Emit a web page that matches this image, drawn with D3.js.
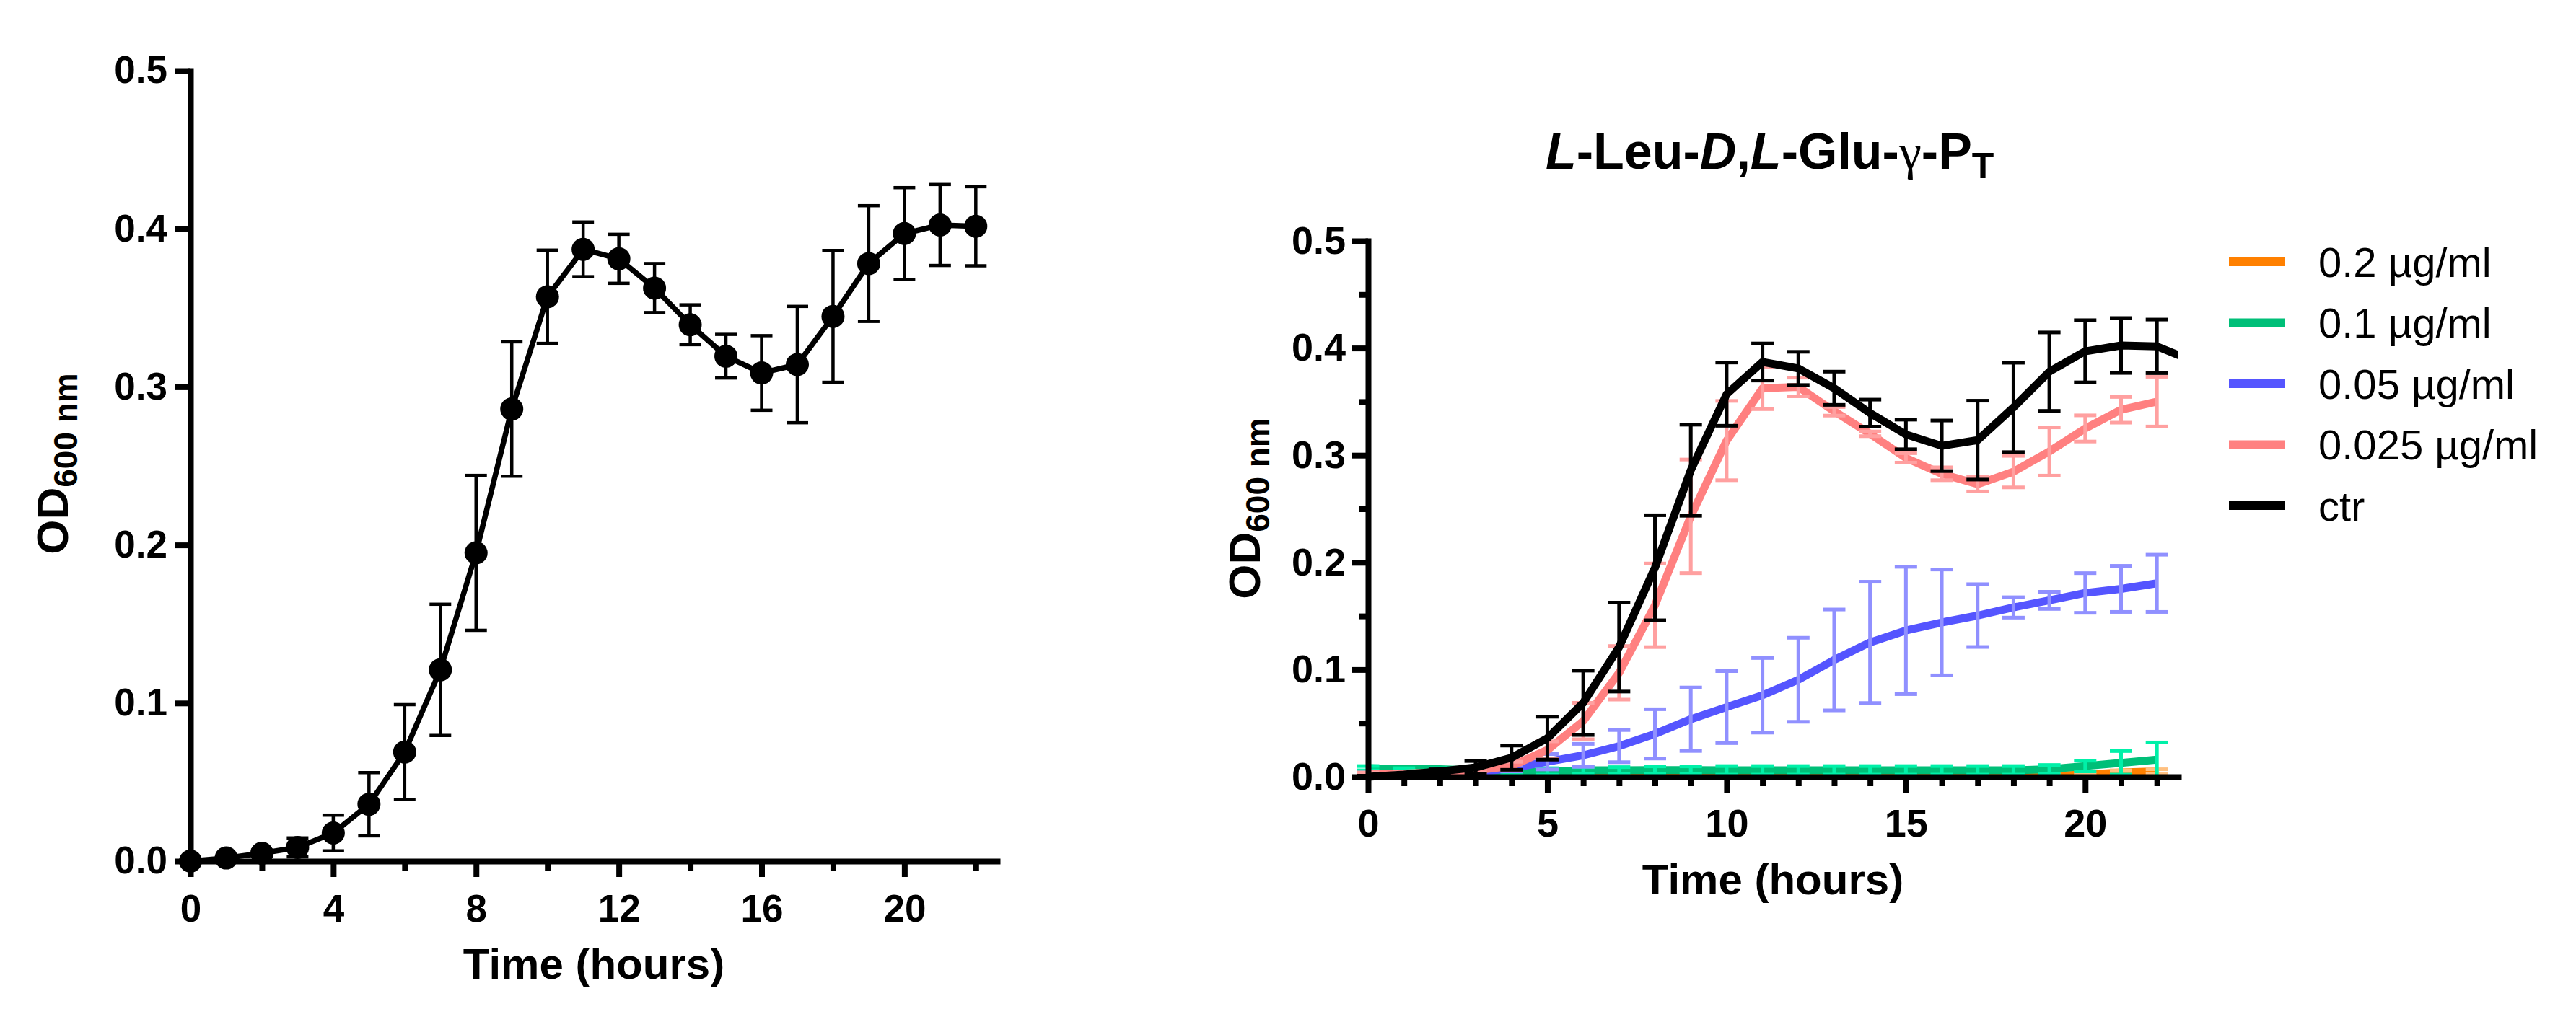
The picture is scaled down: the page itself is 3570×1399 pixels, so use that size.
<!DOCTYPE html>
<html><head><meta charset="utf-8">
<script src="https://cdn.jsdelivr.net/npm/d3@7"></script>
<style>
body{margin:0;background:#fff}
svg{display:block}
text{font-family:"Liberation Sans",Arial,sans-serif}
</style>
</head><body>
<svg id="c" width="3570" height="1399"></svg>
<script>
// ---------- DATA ----------
const hours = [0,1,2,3,4,5,6,7,8,9,10,11,12,13,14,15,16,17,18,19,20,21,22];

const ctrMean = [0.000,0.002,0.005,0.0087,0.0178,0.036,0.069,0.121,0.195,0.286,0.357,0.387,0.381,0.3625,0.3393,0.3194,0.3088,0.3141,0.3446,0.378,0.397,0.4024,0.4016];
const ctrErr  = [0.001,0.001,0.002,0.006,0.0113,0.020,0.030,0.0415,0.049,0.0425,0.0295,0.0173,0.0155,0.0155,0.0126,0.0138,0.0236,0.0368,0.0417,0.0366,0.029,0.0256,0.025];
// right panel control curve continues past the axis end
const ctrExtraHour = [23];
const ctrExtraMean = [0.388];

const pinkMean = [0.003,0.003,0.004,0.006,0.010,0.025,0.052,0.097,0.160,0.243,0.3137,0.3625,0.3637,0.341,0.320,0.2975,0.2827,0.273,0.2847,0.3035,0.325,0.3424,0.350];
const pinkErr  = [0.001,0.001,0.001,0.002,0.004,0.008,0.017,0.025,0.039,0.053,0.037,0.0195,0.0087,0.004,0.0022,0.0044,0.006,0.0068,0.0147,0.0225,0.0122,0.012,0.0232];

const blueMean = [0.003,0.003,0.003,0.004,0.008,0.014,0.020,0.0286,0.040,0.0537,0.065,0.076,0.0905,0.109,0.1254,0.1365,0.144,0.1504,0.158,0.1646,0.1715,0.1753,0.1805];
const blueErr  = [0.001,0.001,0.001,0.001,0.003,0.0072,0.0107,0.015,0.023,0.0296,0.0336,0.0348,0.0392,0.0471,0.0566,0.0594,0.0494,0.0293,0.0095,0.008,0.0185,0.0215,0.0267];

const greenMean = [0.008,0.007,0.007,0.006,0.004,0.005,0.006,0.006,0.0062,0.0062,0.006,0.006,0.006,0.006,0.006,0.006,0.006,0.006,0.006,0.007,0.010,0.013,0.016];
const greenErr  = [0.002,0.001,0.001,0.001,0.002,0.003,0.003,0.003,0.0035,0.0035,0.004,0.004,0.004,0.004,0.004,0.004,0.004,0.004,0.004,0.004,0.005,0.011,0.016];

const orangeMean = [0.004,0.003,0.002,0.001,0.001,0.001,0.001,0.001,0.001,0.001,0.001,0.001,0.001,0.001,0.001,0.001,0.001,0.001,0.001,0.001,0.002,0.004,0.005];
const orangeErr  = [0.001,0.001,0.001,0.001,0.001,0.001,0.001,0.001,0.001,0.001,0.001,0.001,0.001,0.001,0.001,0.001,0.001,0.001,0.001,0.001,0.001,0.002,0.002];

const seriesNames  = ["0.2 µg/ml","0.1 µg/ml","0.05 µg/ml","0.025 µg/ml","ctr"];
const seriesColors = ["#FF8000","#00BF78","#5555FF","#FF8080","#000000"];
const barColors    = ["#FFC080","#00F0A8","#9090FF","#FFA0A0","#000000"];

const yTicks = [0,0.1,0.2,0.3,0.4,0.5];
const yMinorR = [0.05,0.15,0.25,0.35,0.45];
const xTicksL = [0,4,8,12,16,20];
const xMinorL = [2,6,10,14,18,22];
const xTicksR = [0,5,10,15,20];
const xMinorR = [1,2,3,4,6,7,8,9,11,12,13,14,16,17,18,19,21,22];

// ---------- DRAW ----------
const svg = d3.select("#c");
const FONT = '"Liberation Sans",Arial,sans-serif';

function styleAxis(g, fs){
  g.attr("font-family", FONT).attr("font-size", fs).attr("font-weight","bold");
  g.select(".domain").attr("stroke","#000").attr("stroke-width",8).attr("stroke-linecap","square");
  g.selectAll(".tick line").attr("stroke","#000").attr("stroke-width",8);
  g.selectAll(".tick text").attr("fill","#000");
}
function minorAxis(g){
  g.select(".domain").remove();
  g.selectAll(".tick line").attr("stroke","#000").attr("stroke-width",8);
  g.selectAll(".tick text").remove();
}

// ===== LEFT PANEL =====
const xL = d3.scaleLinear([0,22.6],[264,1382]);
const yL = d3.scaleLinear([0,0.5],[1194,98]);

const leftData = hours.map((h,i)=>({h, m:ctrMean[i], e:ctrErr[i]}));
const gL = svg.append("g");

// error bars
const ebL = gL.append("g").attr("stroke","#000").attr("stroke-width",4.5);
leftData.forEach(d=>{
  const x = xL(d.h), y1 = yL(d.m+d.e), y0 = yL(d.m-d.e);
  ebL.append("line").attr("x1",x).attr("x2",x).attr("y1",y1).attr("y2",y0);
  ebL.append("line").attr("x1",x-15).attr("x2",x+15).attr("y1",y1).attr("y2",y1);
  ebL.append("line").attr("x1",x-15).attr("x2",x+15).attr("y1",y0).attr("y2",y0);
});
gL.append("path").datum(leftData)
  .attr("fill","none").attr("stroke","#000").attr("stroke-width",7.5).attr("stroke-linejoin","round")
  .attr("d", d3.line().x(d=>xL(d.h)).y(d=>yL(d.m)));

// axes
const axYL = svg.append("g").attr("transform","translate(264,0)")
  .call(d3.axisLeft(yL).tickValues(yTicks).tickFormat(d3.format(".1f")).tickSize(22).tickPadding(10).tickSizeOuter(0));
styleAxis(axYL, 53);
const axXL = svg.append("g").attr("transform","translate(0,1194)")
  .call(d3.axisBottom(xL).tickValues(xTicksL).tickFormat(d3.format("d")).tickSize(22).tickPadding(24).tickSizeOuter(0));
styleAxis(axXL, 53);
const axXLm = svg.append("g").attr("transform","translate(0,1194)")
  .call(d3.axisBottom(xL).tickValues(xMinorL).tickSize(13).tickFormat(""));
minorAxis(axXLm);

// markers on top
gL.append("g").selectAll("circle").data(leftData).join("circle")
  .attr("cx",d=>xL(d.h)).attr("cy",d=>yL(d.m)).attr("r",16).attr("fill","#000");

// axis titles
svg.append("text").attr("x",823).attr("y",1357).attr("text-anchor","middle")
  .attr("font-size",60).attr("font-weight","bold").text("Time (hours)");
function odLabel(x,y){
  const t = svg.append("text").attr("transform",`translate(${x},${y}) rotate(-90)`)
    .attr("text-anchor","middle").attr("font-weight","bold");
  t.append("tspan").attr("font-size",62).text("OD");
  t.append("tspan").attr("font-size",46).attr("dy",13).text("600 nm");
}
odLabel(94,643);

// ===== RIGHT PANEL =====
const xR = d3.scaleLinear([0,22.6],[1896,3019]);
const yR = d3.scaleLinear([0,0.5],[1077,334]);

svg.append("defs").append("clipPath").attr("id","clipR")
  .append("rect").attr("x",1880).attr("y",300).attr("width",3019-1880).attr("height",820);

const means = [orangeMean, greenMean, blueMean, pinkMean, ctrMean];
const errs  = [orangeErr, greenErr, blueErr, pinkErr, ctrErr];
const gR = svg.append("g");
const lineR = d3.line().x(d=>xR(d.h)).y(d=>yR(d.m));

means.forEach((mArr,si)=>{
  let pts = hours.map((h,i)=>({h, m:mArr[i], e:errs[si][i]}));
  let linePts = pts.slice();
  if (si===4) ctrExtraHour.forEach((h,k)=>linePts.push({h, m:ctrExtraMean[k], e:0}));
  gR.append("path").datum(linePts).attr("clip-path","url(#clipR)")
    .attr("fill","none").attr("stroke",seriesColors[si]).attr("stroke-width",11)
    .attr("stroke-linejoin","round").attr("d",lineR);
  const eb = gR.append("g").attr("stroke",barColors[si]).attr("stroke-width",5);
  pts.forEach(d=>{
    const x = xR(d.h), y1 = yR(d.m+d.e), y0 = yR(Math.max(0,d.m-d.e));
    eb.append("line").attr("x1",x).attr("x2",x).attr("y1",y1).attr("y2",y0);
    eb.append("line").attr("x1",x-15.5).attr("x2",x+15.5).attr("y1",y1).attr("y2",y1);
    eb.append("line").attr("x1",x-15.5).attr("x2",x+15.5).attr("y1",y0).attr("y2",y0);
  });
});

const axYR = svg.append("g").attr("transform","translate(1896,0)")
  .call(d3.axisLeft(yR).tickValues(yTicks).tickFormat(d3.format(".1f")).tickSize(22).tickPadding(9).tickSizeOuter(0));
styleAxis(axYR, 54);
const axYRm = svg.append("g").attr("transform","translate(1896,0)")
  .call(d3.axisLeft(yR).tickValues(yMinorR).tickSize(13).tickFormat(""));
minorAxis(axYRm);
const axXR = svg.append("g").attr("transform","translate(0,1077)")
  .call(d3.axisBottom(xR).tickValues(xTicksR).tickFormat(d3.format("d")).tickSize(22).tickPadding(23).tickSizeOuter(0));
styleAxis(axXR, 54);
const axXRm = svg.append("g").attr("transform","translate(0,1077)")
  .call(d3.axisBottom(xR).tickValues(xMinorR).tickSize(13).tickFormat(""));
minorAxis(axXRm);

svg.append("text").attr("x",2457).attr("y",1240).attr("text-anchor","middle")
  .attr("font-size",60).attr("font-weight","bold").text("Time (hours)");
odLabel(1746,705);

// title
const title = svg.append("text").attr("x",2142).attr("y",234).attr("font-size",70).attr("font-weight","bold");
title.append("tspan").attr("font-style","italic").text("L");
title.append("tspan").text("-Leu-");
title.append("tspan").attr("font-style","italic").text("D");
title.append("tspan").text(",");
title.append("tspan").attr("font-style","italic").text("L");
title.append("tspan").text("-Glu-");
title.append("tspan").attr("font-family",'"Liberation Serif","DejaVu Serif",serif').attr("font-weight","normal").text("γ");
title.append("tspan").text("-P");
title.append("tspan").attr("font-size",50).attr("dy",13).text("T");

// legend
const lg = svg.append("g");
seriesNames.forEach((name,i)=>{
  const y = 363 + i*84.5;
  lg.append("line").attr("x1",3089).attr("x2",3167).attr("y1",y).attr("y2",y)
    .attr("stroke",seriesColors[i]).attr("stroke-width",12);
  lg.append("text").attr("x",3213).attr("y",y+20.5).attr("font-size",58).text(name);
});
</script>
</body></html>
